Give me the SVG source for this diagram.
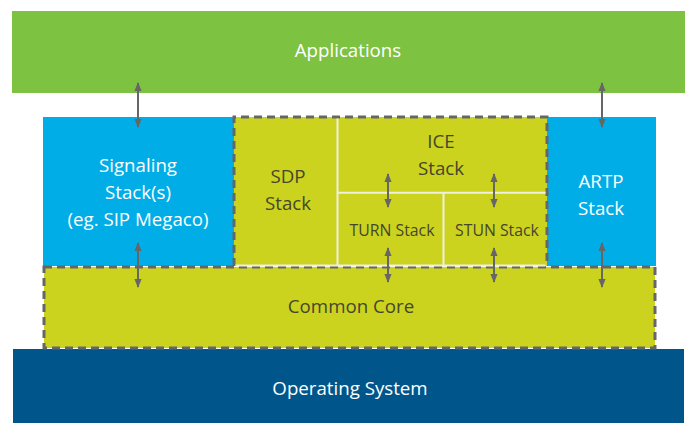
<svg xmlns="http://www.w3.org/2000/svg" width="689" height="423" viewBox="0 0 689 423">
<defs>
<style>
text{font-family:"Open Sans","Noto Sans","Liberation Sans",sans-serif;text-anchor:middle;}
.w{fill:#ffffff;}
.d{fill:#46462e;}
.big{font-size:18.7px;}
.sm{font-size:15.8px;}
.dash{fill:none;stroke:#666666;stroke-width:3;stroke-dasharray:8 5;}
.sep{stroke:#f0f0e0;stroke-width:2;fill:none;}
.arr{stroke:#666666;stroke-width:2;marker-start:url(#ah);marker-end:url(#ah);}
</style>
<marker id="ah" viewBox="0 0 10 8" refX="9" refY="4" markerWidth="4.5" markerHeight="4.5" orient="auto-start-reverse" markerUnits="strokeWidth">
<path d="M0,0 L10,4 L0,8 z" fill="#666666"/>
</marker>
</defs>
<g id="applications">
<rect x="12" y="11" width="673" height="82" fill="#7ec242"/>
<text class="w big" x="348" y="57">Applications</text>
</g>
<g id="os">
<rect x="13" y="349" width="671" height="74" fill="#00568b"/>
<text class="w big" x="350" y="395">Operating System</text>
</g>
<g id="signaling">
<rect x="43" y="117" width="191" height="149" fill="#00ade6"/>
<text class="w big" x="138" y="172">Signaling</text>
<text class="w big" x="138" y="199">Stack(s)</text>
<text class="w big" x="138" y="226">(eg. SIP Megaco)</text>
</g>
<g id="artp">
<rect x="547" y="117" width="109" height="149" fill="#00ade6"/>
<text class="w big" x="601" y="188">ARTP</text>
<text class="w big" x="601" y="215">Stack</text>
</g>
<g id="core">
<rect x="44" y="267" width="611" height="81" fill="#cbd31f"/>
<rect class="dash" x="44" y="267" width="611" height="81"/>
<text class="d big" x="351" y="313">Common Core</text>
</g>
<g id="protocols">
<rect x="234" y="117" width="313" height="149" fill="#cbd31f"/>
<path class="dash" d="M234,266 V117 H547 V266"/>
</g>
<g id="sdp">
<text class="d big" x="288" y="183">SDP</text>
<text class="d big" x="288" y="210">Stack</text>
</g>
<g id="ice">
<text class="d big" x="441" y="148">ICE</text>
<text class="d big" x="441" y="175">Stack</text>
</g>
<g id="turn">
<text class="d sm" x="392" y="236">TURN Stack</text>
</g>
<g id="stun">
<text class="d sm" x="497" y="236">STUN Stack</text>
</g>
<g id="separators">
<path class="sep" d="M337.5,118.5 V265 M338,192.7 H545.5 M443.5,193 V265 M235.5,265.5 H545.5"/>
</g>
<g id="connectors">
<line class="arr" x1="138" y1="83" x2="138" y2="127"/>
<line class="arr" x1="602" y1="83" x2="602" y2="127"/>
<line class="arr" x1="138" y1="243" x2="138" y2="287"/>
<line class="arr" x1="602" y1="243" x2="602" y2="287"/>
<line class="arr" x1="388" y1="174" x2="388" y2="207"/>
<line class="arr" x1="494" y1="174" x2="494" y2="207"/>
<line class="arr" x1="388" y1="248" x2="388" y2="282"/>
<line class="arr" x1="494" y1="248" x2="494" y2="282"/>
</g>
</svg>
